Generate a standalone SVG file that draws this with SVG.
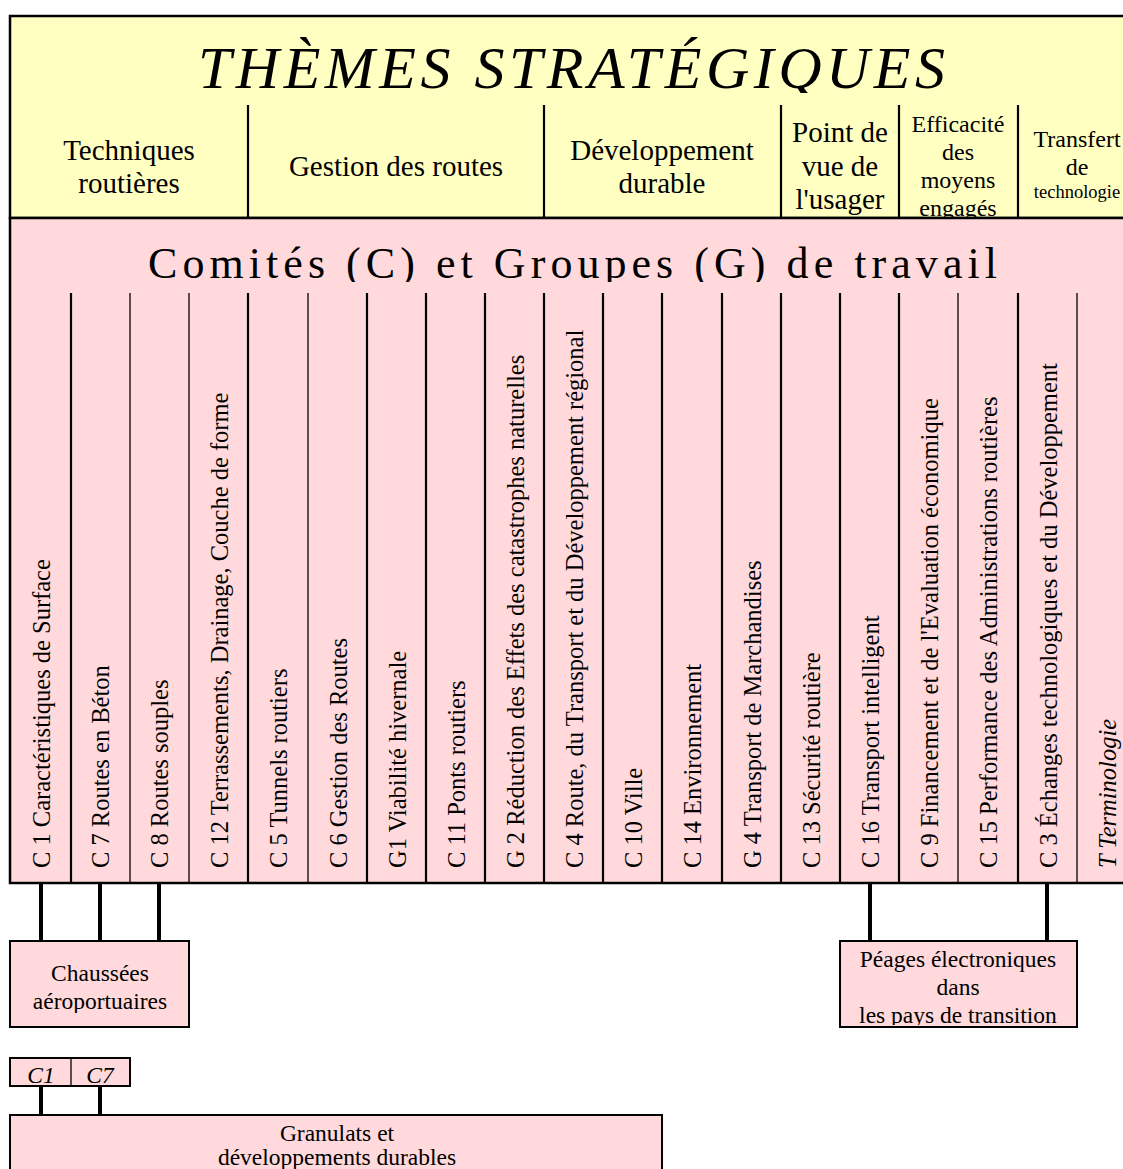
<svg xmlns="http://www.w3.org/2000/svg" width="1123" height="1169" viewBox="0 0 1123 1169">
<style>
text{font-family:"Liberation Serif","Times New Roman",serif;fill:#000}
.hd{font-size:29px;text-anchor:middle}
.hs{font-size:24px;text-anchor:middle}
.col{font-size:24.5px}
.box{fill:#FFD9DB;stroke:#000;stroke-width:2}
.thick{stroke:#000;stroke-width:2.2}
.thin{stroke:#000;stroke-width:1.3}
.conn{stroke:#000;stroke-width:4}
.bt{font-size:23.5px;text-anchor:middle}
</style>
<defs>
<clipPath id="cTitle"><rect x="10" y="16" width="1126" height="77"/></clipPath>
<clipPath id="cHead"><rect x="10" y="105" width="1126" height="112"/></clipPath>
<clipPath id="cCom"><rect x="10" y="218" width="1126" height="64"/></clipPath>
<clipPath id="cChau"><rect x="10" y="941" width="179" height="72"/></clipPath>
<clipPath id="cPea"><rect x="840" y="941" width="237" height="84"/></clipPath>
<clipPath id="cGran"><rect x="10" y="1115" width="652" height="60"/></clipPath>
</defs>
<rect width="1123" height="1169" fill="#fff"/>
<g id="themes">
<rect x="10" y="16" width="1130" height="202" fill="#FFFFC2" stroke="#000" stroke-width="2.5"/>
<text clip-path="url(#cTitle)" x="198" y="88" font-size="60" font-style="italic" textLength="747" lengthAdjust="spacing">THÈMES STRATÉGIQUES</text>
<g class="thick">
<line x1="248" y1="105" x2="248" y2="218"/>
<line x1="544" y1="105" x2="544" y2="218"/>
<line x1="781" y1="105" x2="781" y2="218"/>
<line x1="899" y1="105" x2="899" y2="218"/>
<line x1="1018" y1="105" x2="1018" y2="218"/>
</g>
<g clip-path="url(#cHead)">
<text class="hd" x="129" y="160">Techniques</text>
<text class="hd" x="129" y="193">routières</text>
<text class="hd" x="396" y="176">Gestion des routes</text>
<text class="hd" x="662" y="160">Développement</text>
<text class="hd" x="662" y="193">durable</text>
<text class="hd" x="840" y="142">Point de</text>
<text class="hd" x="840" y="176">vue de</text>
<text class="hd" x="840" y="209">l'usager</text>
<text class="hs" x="958" y="132">Efficacité</text>
<text class="hs" x="958" y="160">des</text>
<text class="hs" x="958" y="188">moyens</text>
<text class="hs" x="958" y="216">engagés</text>
<text class="hs" x="1077" y="147">Transfert</text>
<text class="hs" x="1077" y="175">de</text>
<text x="1077" y="198" font-size="18.5" text-anchor="middle">technologie</text>
</g>
</g>
<g id="comites">
<rect x="10" y="218" width="1130" height="665" fill="#FFD9DB" stroke="#000" stroke-width="2.5"/>
<text clip-path="url(#cCom)" x="148" y="278" font-size="44" textLength="849" lengthAdjust="spacing">Comités (C) et Groupes (G) de travail</text>
<g class="thick">
<line x1="71" y1="293" x2="71" y2="883"/>
<line x1="248" y1="293" x2="248" y2="883"/>
<line x1="367" y1="293" x2="367" y2="883"/>
<line x1="426" y1="293" x2="426" y2="883"/>
<line x1="485" y1="293" x2="485" y2="883"/>
<line x1="544" y1="293" x2="544" y2="883"/>
<line x1="603" y1="293" x2="603" y2="883"/>
<line x1="662" y1="293" x2="662" y2="883"/>
<line x1="722" y1="293" x2="722" y2="883"/>
<line x1="781" y1="293" x2="781" y2="883"/>
<line x1="840" y1="293" x2="840" y2="883"/>
<line x1="899" y1="293" x2="899" y2="883"/>
<line x1="1018" y1="293" x2="1018" y2="883"/>
</g>
<g class="thin">
<line x1="130" y1="293" x2="130" y2="883"/>
<line x1="189" y1="293" x2="189" y2="883"/>
<line x1="308" y1="293" x2="308" y2="883"/>
<line x1="958" y1="293" x2="958" y2="883"/>
<line x1="1077" y1="293" x2="1077" y2="883"/>
</g>
<g class="col">
<text transform="translate(49.5,868) rotate(-90)">C 1 Caractéristiques de Surface</text>
<text transform="translate(109,868) rotate(-90)">C 7 Routes en Béton</text>
<text transform="translate(168,868) rotate(-90)">C 8 Routes souples</text>
<text transform="translate(227.5,868) rotate(-90)">C 12 Terrassements, Drainage, Couche de forme</text>
<text transform="translate(287,868) rotate(-90)">C 5 Tunnels routiers</text>
<text transform="translate(346.5,868) rotate(-90)">C 6 Gestion des Routes</text>
<text transform="translate(405.5,868) rotate(-90)">G1 Viabilité hivernale</text>
<text transform="translate(464.5,868) rotate(-90)">C 11 Ponts routiers</text>
<text transform="translate(523.5,868) rotate(-90)">G 2 Réduction des Effets des catastrophes naturelles</text>
<text transform="translate(582.5,868) rotate(-90)">C 4 Route, du Transport et du Développement régional</text>
<text transform="translate(641.5,868) rotate(-90)">C 10 Ville</text>
<text transform="translate(701,868) rotate(-90)">C 14 Environnement</text>
<text transform="translate(760.5,868) rotate(-90)">G 4 Transport de Marchandises</text>
<text transform="translate(819.5,868) rotate(-90)">C 13 Sécurité routière</text>
<text transform="translate(878.5,868) rotate(-90)">C 16 Transport intelligent</text>
<text transform="translate(937.5,868) rotate(-90)">C 9 Financement et de l'Evaluation économique</text>
<text transform="translate(997,868) rotate(-90)">C 15 Performance des Administrations routières</text>
<text transform="translate(1056.5,868) rotate(-90)">C 3 Échanges technologiques et du Développement</text>
<text transform="translate(1115.5,868) rotate(-90)" font-style="italic">T Terminologie</text>
</g>
</g>
<g id="connectors" class="conn">
<line x1="41" y1="884" x2="41" y2="941"/>
<line x1="100" y1="884" x2="100" y2="941"/>
<line x1="159" y1="884" x2="159" y2="941"/>
<line x1="870" y1="884" x2="870" y2="941"/>
<line x1="1047" y1="884" x2="1047" y2="941"/>
<line x1="41" y1="1087" x2="41" y2="1115"/>
<line x1="100" y1="1087" x2="100" y2="1115"/>
</g>
<g id="chaussees">
<rect class="box" x="10" y="941" width="179" height="86"/>
<g clip-path="url(#cChau)">
<text class="bt" x="100" y="981">Chaussées</text>
<text class="bt" x="100" y="1009">aéroportuaires</text>
</g>
</g>
<g id="peages">
<rect class="box" x="840" y="941" width="237" height="86"/>
<g clip-path="url(#cPea)">
<text class="bt" x="958" y="967">Péages électroniques</text>
<text class="bt" x="958" y="995">dans</text>
<text class="bt" x="958" y="1023">les pays de transition</text>
</g>
</g>
<g id="c1c7">
<rect class="box" x="10" y="1058" width="120" height="28"/>
<line class="thin" x1="71" y1="1058" x2="71" y2="1086"/>
<text class="bt" x="41" y="1083" font-style="italic">C1</text>
<text class="bt" x="100" y="1083" font-style="italic">C7</text>
</g>
<g id="granulats">
<rect class="box" x="10" y="1115" width="652" height="70"/>
<g clip-path="url(#cGran)">
<text class="bt" x="337" y="1141">Granulats et</text>
<text class="bt" x="337" y="1165">développements durables</text>
</g>
</g>
</svg>
